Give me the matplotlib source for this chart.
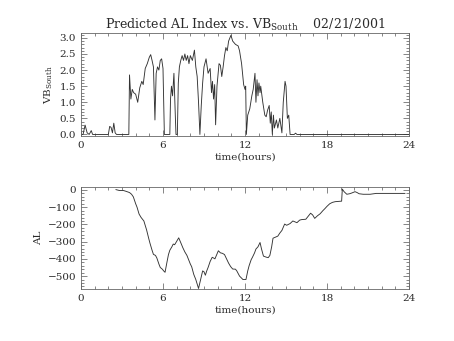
import numpy as np
import matplotlib
matplotlib.use('Agg')
import matplotlib.pyplot as plt
from matplotlib.ticker import MultipleLocator, AutoMinorLocator

# VB south (hours, value)
vb_hours = [0.0, 0.15, 0.3, 0.45, 0.6, 0.75, 0.85, 2.0, 2.1, 2.2, 2.3, 2.4, 2.5, 2.6,
            3.5, 3.55, 3.65, 3.75, 3.85, 4.0, 4.15, 4.3, 4.45, 4.55, 4.7, 4.85, 5.0,
            5.1, 5.2, 5.3, 5.41, 5.5, 5.6, 5.7, 5.8, 5.9, 6.0, 6.1, 6.5, 6.55, 6.62,
            6.7, 6.8, 6.9, 6.95, 7.05, 7.12, 7.2, 7.3, 7.4, 7.5, 7.6, 7.7, 7.8, 7.9,
            8.0, 8.15, 8.3, 8.4, 8.5, 8.6, 8.7, 8.8, 8.9, 9.0, 9.15, 9.3, 9.45, 9.55,
            9.62, 9.7, 9.78, 9.85, 9.95, 10.1, 10.2, 10.3, 10.4, 10.5, 10.6, 10.7,
            10.8, 10.97, 11.1, 11.3, 11.5, 11.6, 11.75, 11.9, 12.0, 12.05, 12.1, 12.2,
            12.35, 12.5, 12.6, 12.73, 12.8, 12.88, 12.95, 13.02, 13.1, 13.15, 13.3,
            13.45, 13.55, 13.65, 13.77, 13.85, 13.92, 14.0, 14.08, 14.15, 14.3, 14.4,
            14.55, 14.7, 14.8, 14.93, 15.0, 15.1, 15.2, 15.3, 15.6, 15.7, 15.8, 24.0]
vb_south = [0, 0, 0.29, 0.05, 0, 0.12, 0, 0, 0.25, 0.22, 0.05, 0.35, 0.05, 0,
            0, 1.85, 1.1, 1.4, 1.3, 1.25, 1.0, 1.45, 1.65, 1.55, 2.05, 2.2, 2.4,
            2.48, 2.3, 2.1, 0.45, 1.9, 2.1, 2.0, 2.3, 2.35, 2.05, 0, 0, 1.1, 1.5,
            1.2, 1.9, 0.6, 0, 0, 1.6, 2.1, 2.3, 2.45, 2.3, 2.5, 2.3, 2.45, 2.2,
            2.45, 2.3, 2.62, 2.1, 1.8, 1.0, 0, 0.9, 1.6, 2.1, 2.35, 1.9, 2.05, 1.3,
            1.65, 1.1, 1.55, 0.3, 1.5, 2.2, 2.15, 1.8, 2.1, 2.45, 2.7, 2.6,
            2.9, 3.08, 2.9, 2.8, 2.75, 2.6, 2.2, 1.55, 1.4, 1.5, 0, 0.6,
            0.8, 1.2, 1.4, 1.9, 1.0, 1.7, 1.2, 1.6, 1.3, 1.5, 1.0,
            0.6, 0.55, 0.75, 0.9, 0.35, 0.7, 0, 0.6, 0.2, 0.45, 0.2,
            0.5, 0.05, 1.0, 1.65, 1.5, 0.5, 0.6, 0, 0, 0.04, 0, 0]

# AL index (hours, nT)
al_hours = [2.56, 2.8, 3.1, 3.3, 3.55, 3.7, 3.83, 4.0, 4.1, 4.25, 4.4, 4.6, 4.8, 4.95,
            5.05, 5.2, 5.3, 5.45, 5.55, 5.7, 5.8, 5.95, 6.05, 6.15, 6.3, 6.4, 6.5,
            6.65, 6.75, 6.85, 6.95, 7.15, 7.3, 7.45, 7.6, 7.75, 7.85, 8.0, 8.1, 8.25,
            8.4, 8.6, 8.8, 8.9, 9.0, 9.1, 9.2, 9.3, 9.45, 9.6, 9.7, 9.8, 10.05, 10.2,
            10.35, 10.5, 10.65, 10.8, 10.95, 11.1, 11.3, 11.4, 11.6, 11.85, 12.07,
            12.2, 12.3, 12.45, 12.55, 12.7, 12.8, 12.95, 13.1, 13.2, 13.35, 13.55,
            13.7, 13.82, 13.95, 14.05, 14.2, 14.4, 14.55, 14.7, 14.9, 15.05, 15.3,
            15.5, 15.65, 15.8, 16.0, 16.15, 16.45, 16.6, 16.8, 16.95, 17.1, 17.3,
            17.5, 17.7, 17.85, 18.0, 18.2, 18.4, 18.6, 18.9, 19.07, 19.12, 19.25,
            19.45, 19.65, 19.8, 20.05, 20.2, 20.35, 20.65, 21.15, 21.6, 22.5, 23.7]
al_index = [2, -3, -3, -8, -15, -25, -40, -80, -100, -140, -160, -180, -232, -280,
            -310, -350, -374, -380, -395, -430, -450, -460, -470, -478, -415, -375, -350,
            -330, -314, -318, -305, -278, -306, -335, -360, -380, -400, -430, -446, -490,
            -520, -572, -504, -470, -475, -495, -470, -450, -415, -391, -395, -400, -353, -365,
            -368, -375, -400, -425, -445, -459, -460, -470, -500, -520, -520,
            -470, -440, -405, -390, -365, -343, -330, -305, -340, -384, -390,
            -393, -380, -330, -280, -275, -268, -250, -235, -198, -205, -195,
            -180, -185, -190, -175, -172, -170, -155, -135, -145, -165, -150,
            -138, -120, -108, -95, -80, -72, -68, -66, -65, 5, -10,
            -25, -22, -18, -10, -15, -22, -25, -25, -20, -20, -20]

hour_ticks = [0, 6, 12, 18, 24]

plt.rcParams['font.family'] = 'DejaVu Serif'
plt.rcParams['mathtext.fontset'] = 'dejavuserif'
plt.rcParams['font.size'] = 7.5
ink = '#2a2a2a'

fig = plt.figure(figsize=(4.54, 3.41), dpi=100)
ax1 = fig.add_axes([0.1784, 0.601, 0.7225, 0.302])
ax2 = fig.add_axes([0.1784, 0.1525, 0.7225, 0.298])


def style_axes(ax, ymajor):
    ax.set_xlim(0, 24)
    ax.set_xticks(hour_ticks)
    ax.xaxis.set_minor_locator(MultipleLocator(1))
    ax.yaxis.set_major_locator(MultipleLocator(ymajor))
    ax.yaxis.set_minor_locator(AutoMinorLocator(5))
    ax.tick_params(which='both', direction='in', top=True, right=True,
                   colors='#555555', labelcolor=ink, width=0.5, labelsize=7.5)
    ax.tick_params(which='major', length=4)
    ax.tick_params(which='minor', length=2)
    for s in ax.spines.values():
        s.set_linewidth(0.6)
        s.set_color('#666666')
    ax.set_xlabel('time(hours)', color=ink, labelpad=2)


ax1.plot(vb_hours, vb_south, color='#333333', lw=0.65)
ax1.set_ylim(-0.05, 3.15)
style_axes(ax1, 0.5)
ax1.yaxis.set_major_formatter(matplotlib.ticker.FormatStrFormatter('%.1f'))
ax1.set_ylabel(r'VB$_{\rm South}$', color=ink, labelpad=3)
ax1.set_title(r'Predicted AL Index vs. VB$_{\rm South}$    02/21/2001',
              fontsize=9, color=ink, pad=3)

ax2.plot(al_hours, al_index, color='#333333', lw=0.65)
ax2.set_ylim(-575, 15)
style_axes(ax2, 100)
ax2.set_ylabel('AL', color=ink, labelpad=3)

fig.savefig('out.png', dpi=100)
